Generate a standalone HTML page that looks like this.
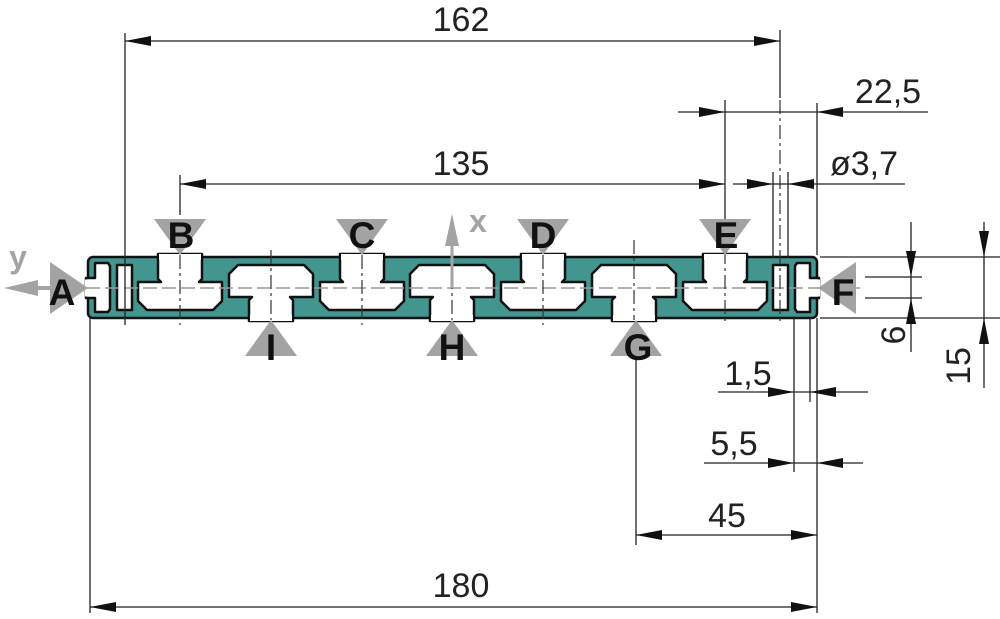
<!DOCTYPE html>
<html><head><meta charset="utf-8"><style>html,body{margin:0;padding:0;background:#fff}svg{display:block}</style></head>
<body>
<svg width="1000" height="619" viewBox="0 0 1000 619" xmlns="http://www.w3.org/2000/svg" font-family="Liberation Sans, sans-serif">
<defs>
<path id="ts" d="M-22,254 L-22,279 L-19,282 L-42,282 L-42,301 L-33,310 L33,310 L42,301 L42,282 L19,282 L22,279 L22,254 Z"/>
<path id="bs" d="M-22,321 L-22,300 L-19,297 L-42,297 L-42,274 L-33,265 L33,265 L42,274 L42,297 L19,297 L22,300 L22,321 Z"/>
<path id="dn" d="M-26,219 L26,219 L0,255 Z"/>
<path id="up" d="M-26,356 L26,356 L0,320 Z"/>
</defs>
<rect x="88" y="257" width="729" height="61" rx="5" fill="#43968f" stroke="#111" stroke-width="2.5"/>
<g fill="#fff" stroke="#111" stroke-width="2.5" stroke-linejoin="round">
<use href="#ts" x="180"/><use href="#ts" x="362"/><use href="#ts" x="543"/><use href="#ts" x="725"/>
<use href="#bs" x="271"/><use href="#bs" x="452"/><use href="#bs" x="634"/>
<path d="M86,278 L95,278 L95,263 L108,263 L110,266 L110,309 L108,312 L95,312 L95,298 L86,298 Z"/>
<path d="M819,278 L810,278 L810,263 L797,263 L795,266 L795,309 L797,312 L810,312 L810,298 L819,298 Z"/>
<rect x="117" y="265" width="15" height="45"/>
<rect x="773" y="265" width="15" height="45"/>
</g>
<g fill="#fff">
<rect x="159" y="254" width="42" height="6"/><rect x="341" y="254" width="42" height="6"/><rect x="522" y="254" width="42" height="6"/><rect x="704" y="254" width="42" height="6"/>
<rect x="250" y="315" width="42" height="6"/><rect x="431" y="315" width="42" height="6"/><rect x="613" y="315" width="42" height="6"/>
<rect x="85" y="279.5" width="9" height="17"/><rect x="811" y="279.5" width="9" height="17"/>
</g>
<g stroke="#999" stroke-width="1.5" fill="none" stroke-dasharray="14,5">
<line x1="10" y1="288" x2="860" y2="288"/>
</g>
<g stroke="#333" stroke-width="1.2" fill="none" stroke-dasharray="14,4,3,4">
<line x1="180" y1="255" x2="180" y2="325"/><line x1="362" y1="255" x2="362" y2="325"/><line x1="543" y1="255" x2="543" y2="325"/><line x1="725" y1="250" x2="725" y2="325"/>
<line x1="271" y1="250" x2="271" y2="320"/><line x1="452" y1="250" x2="452" y2="320"/><line x1="634" y1="240" x2="634" y2="320"/>
<line x1="780" y1="100" x2="780" y2="325"/>
</g>
<g stroke="#222" stroke-width="1.3" fill="none">
<line x1="125" y1="33" x2="125" y2="325"/>
<line x1="780" y1="30" x2="780" y2="98"/>
<line x1="125" y1="41" x2="780" y2="41"/>
<line x1="678" y1="112" x2="928" y2="112"/>
<line x1="725" y1="100" x2="725" y2="250"/>
<line x1="817" y1="103" x2="817" y2="255"/>
<line x1="180" y1="175" x2="180" y2="215"/>
<line x1="180" y1="184" x2="725" y2="184"/>
<line x1="733" y1="184" x2="905" y2="184"/>
<line x1="773" y1="172" x2="773" y2="258"/><line x1="788" y1="172" x2="788" y2="258"/>
<line x1="90" y1="318" x2="90" y2="613"/>
<line x1="817" y1="318" x2="817" y2="613"/>
<line x1="794" y1="318" x2="794" y2="472"/>
<line x1="810" y1="318" x2="810" y2="402"/>
<line x1="636" y1="360" x2="636" y2="545"/>
<line x1="90" y1="607" x2="817" y2="607"/>
<line x1="636" y1="535" x2="817" y2="535"/>
<line x1="718" y1="392" x2="868" y2="392"/>
<line x1="704" y1="463" x2="863" y2="463"/>
<line x1="820" y1="257" x2="1000" y2="257"/>
<line x1="820" y1="318" x2="1000" y2="318"/>
<line x1="865" y1="277" x2="922" y2="277"/>
<line x1="865" y1="298" x2="922" y2="298"/>
<line x1="911" y1="222" x2="911" y2="352"/>
<line x1="984" y1="222" x2="984" y2="388"/>
</g>
<g fill="#111">
<polygon points="125,41 151,36 151,46"/><polygon points="780,41 754,36 754,46"/>
<polygon points="725,112 699,107 699,117"/><polygon points="817,112 843,107 843,117"/>
<polygon points="180,184 206,179 206,189"/><polygon points="725,184 699,179 699,189"/>
<polygon points="773,184 747,179 747,189"/><polygon points="788,184 814,179 814,189"/>
<polygon points="90,607 116,602 116,612"/><polygon points="817,607 791,602 791,612"/>
<polygon points="636,535 662,530 662,540"/><polygon points="817,535 791,530 791,540"/>
<polygon points="794,392 768,387 768,397"/><polygon points="810,392 836,387 836,397"/>
<polygon points="794,463 768,458 768,468"/><polygon points="817,463 843,458 843,468"/>
<polygon points="911,277 906,251 916,251"/><polygon points="911,298 906,324 916,324"/>
<polygon points="984,257 979,231 989,231"/><polygon points="984,318 979,344 989,344"/>
</g>
<g fill="#222" font-size="34">
<text x="461" y="31" text-anchor="middle">162</text>
<text x="461" y="175" text-anchor="middle">135</text>
<text x="888" y="103" text-anchor="middle">22,5</text>
<text x="864" y="175" text-anchor="middle">ø3,7</text>
<text x="748" y="385" text-anchor="middle">1,5</text>
<text x="734" y="455" text-anchor="middle">5,5</text>
<text x="727" y="527" text-anchor="middle">45</text>
<text x="461" y="597" text-anchor="middle">180</text>
<text transform="translate(905,335) rotate(-90)" text-anchor="middle">6</text>
<text transform="translate(970,366) rotate(-90)" text-anchor="middle">15</text>
</g>
<g fill="#a3a3a3">
<use href="#dn" x="180"/><use href="#dn" x="362"/><use href="#dn" x="543"/><use href="#dn" x="725"/>
<use href="#up" x="271"/><use href="#up" x="452"/><use href="#up" x="636"/>
<polygon points="88,288 50,262 50,314"/>
<polygon points="818,288 856,262 856,314"/>
<polygon points="4,288 38,280 38,296"/><rect x="36" y="286" width="30" height="4"/>
<polygon points="452,214 445,246 459,246"/><rect x="450.5" y="244" width="3" height="44"/>
</g>
<g fill="#a3a3a3" font-weight="bold" font-size="32">
<text x="18" y="268" text-anchor="middle">y</text>
<text x="478" y="232" text-anchor="middle">x</text>
</g>
<g fill="#111" font-weight="bold" font-size="37" text-anchor="middle">
<text x="181" y="248">B</text><text x="362" y="248">C</text><text x="543" y="248">D</text><text x="726" y="248">E</text>
<text x="271" y="360">I</text><text x="452" y="360">H</text><text x="638" y="360">G</text>
<text x="62" y="305">A</text><text x="843" y="305">F</text>
</g>
</svg>
</body></html>
